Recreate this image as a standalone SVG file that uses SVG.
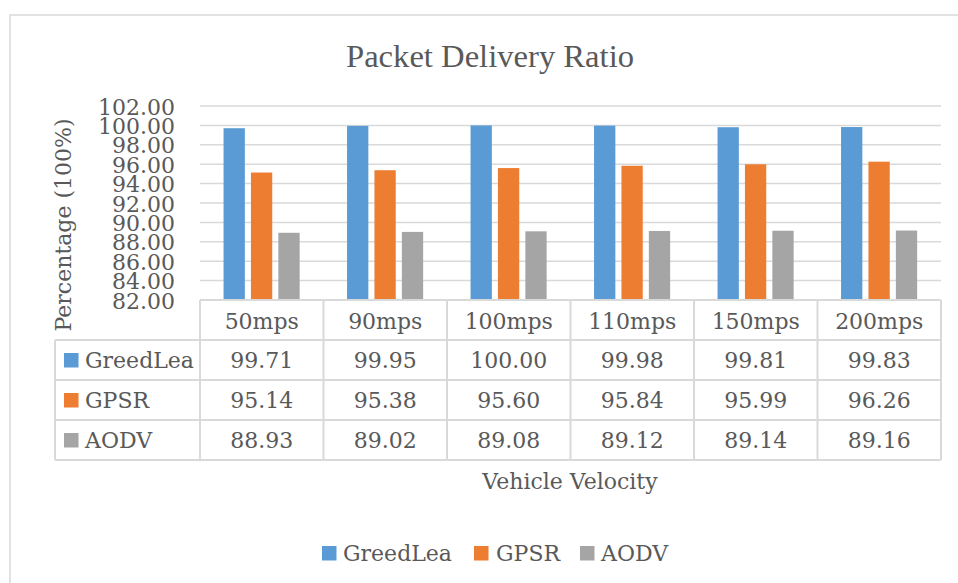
<svg xmlns="http://www.w3.org/2000/svg" width="958" height="583" viewBox="0 0 958 583">
<style>
text{font-family:"DejaVu Serif","Liberation Serif",serif;fill:#595959;font-size:22px}
.grid{stroke:#D9D9D9;stroke-width:1.5;fill:none}
.tb{stroke:#D9D9D9;stroke-width:2;fill:none}
.g{fill:#5B9BD5}.o{fill:#ED7D31}.a{fill:#A5A5A5}
.ya{text-anchor:end}
.c{text-anchor:middle}
</style>
<rect x="0" y="0" width="958" height="583" fill="#FFFFFF"/>
<rect x="10" y="15" width="960" height="580" fill="#FFFFFF" stroke="#D9D9D9" stroke-width="1.5"/>
<text id="title" x="490" y="67" class="c" style="font-family:'Liberation Serif',serif;font-size:32px" textLength="288" lengthAdjust="spacingAndGlyphs">Packet Delivery Ratio</text>
<g id="gridlines" class="grid">
<line x1="200" y1="106" x2="941" y2="106"/>
<line x1="200" y1="125.4" x2="941" y2="125.4"/>
<line x1="200" y1="144.8" x2="941" y2="144.8"/>
<line x1="200" y1="164.2" x2="941" y2="164.2"/>
<line x1="200" y1="183.6" x2="941" y2="183.6"/>
<line x1="200" y1="203" x2="941" y2="203"/>
<line x1="200" y1="222.4" x2="941" y2="222.4"/>
<line x1="200" y1="241.8" x2="941" y2="241.8"/>
<line x1="200" y1="261.2" x2="941" y2="261.2"/>
<line x1="200" y1="280.6" x2="941" y2="280.6"/>
</g>
<g id="yaxis">
<text class="ya" x="175" y="114.5">102.00</text>
<text class="ya" x="175" y="133.9">100.00</text>
<text class="ya" x="175" y="153.3">98.00</text>
<text class="ya" x="175" y="172.7">96.00</text>
<text class="ya" x="175" y="192.1">94.00</text>
<text class="ya" x="175" y="211.5">92.00</text>
<text class="ya" x="175" y="230.9">90.00</text>
<text class="ya" x="175" y="250.3">88.00</text>
<text class="ya" x="175" y="269.7">86.00</text>
<text class="ya" x="175" y="289.1">84.00</text>
<text class="ya" x="175" y="308.5">82.00</text>
<text class="c" transform="translate(71,225) rotate(-90)">Percentage (100%)</text>
</g>
<g id="bars">
<rect class="g" x="223.55" y="128.21" width="21.3" height="171.79"/>
<rect class="o" x="250.95" y="172.54" width="21.3" height="127.46"/>
<rect class="a" x="278.35" y="232.78" width="21.3" height="67.22"/>
<rect class="g" x="347.05" y="125.88" width="21.3" height="174.12"/>
<rect class="o" x="374.45" y="170.21" width="21.3" height="129.79"/>
<rect class="a" x="401.85" y="231.91" width="21.3" height="68.09"/>
<rect class="g" x="470.55" y="125.4" width="21.3" height="174.6"/>
<rect class="o" x="497.95" y="168.08" width="21.3" height="131.92"/>
<rect class="a" x="525.35" y="231.32" width="21.3" height="68.68"/>
<rect class="g" x="594.05" y="125.59" width="21.3" height="174.41"/>
<rect class="o" x="621.45" y="165.75" width="21.3" height="134.25"/>
<rect class="a" x="648.85" y="230.94" width="21.3" height="69.06"/>
<rect class="g" x="717.55" y="127.24" width="21.3" height="172.76"/>
<rect class="o" x="744.95" y="164.3" width="21.3" height="135.7"/>
<rect class="a" x="772.35" y="230.74" width="21.3" height="69.26"/>
<rect class="g" x="841.05" y="127.05" width="21.3" height="172.95"/>
<rect class="o" x="868.45" y="161.68" width="21.3" height="138.32"/>
<rect class="a" x="895.85" y="230.55" width="21.3" height="69.45"/>
</g>
<g id="table">
<g class="tb">
<line x1="200" y1="300" x2="941" y2="300"/>
<line x1="55" y1="340" x2="941" y2="340"/>
<line x1="55" y1="380" x2="941" y2="380"/>
<line x1="55" y1="420" x2="941" y2="420"/>
<line x1="55" y1="460" x2="941" y2="460"/>
<line x1="55" y1="340" x2="55" y2="460"/>
<line x1="200" y1="300" x2="200" y2="460"/>
<line x1="323.5" y1="300" x2="323.5" y2="460"/>
<line x1="447" y1="300" x2="447" y2="460"/>
<line x1="570.5" y1="300" x2="570.5" y2="460"/>
<line x1="694" y1="300" x2="694" y2="460"/>
<line x1="817.5" y1="300" x2="817.5" y2="460"/>
<line x1="941" y1="300" x2="941" y2="460"/>
</g>
<text class="c" x="261.75" y="328.5">50mps</text>
<text class="c" x="385.25" y="328.5">90mps</text>
<text class="c" x="508.75" y="328.5">100mps</text>
<text class="c" x="632.25" y="328.5">110mps</text>
<text class="c" x="755.75" y="328.5">150mps</text>
<text class="c" x="879.25" y="328.5">200mps</text>
<rect class="g" x="64" y="353" width="14.5" height="14.5"/>
<text x="85" y="367.5">GreedLea</text>
<rect class="o" x="64" y="393" width="14.5" height="14.5"/>
<text x="85" y="407.5">GPSR</text>
<rect class="a" x="64" y="433" width="14.5" height="14.5"/>
<text x="85" y="447.5">AODV</text>
<text class="c" x="261.75" y="367.5">99.71</text>
<text class="c" x="385.25" y="367.5">99.95</text>
<text class="c" x="508.75" y="367.5">100.00</text>
<text class="c" x="632.25" y="367.5">99.98</text>
<text class="c" x="755.75" y="367.5">99.81</text>
<text class="c" x="879.25" y="367.5">99.83</text>
<text class="c" x="261.75" y="407.5">95.14</text>
<text class="c" x="385.25" y="407.5">95.38</text>
<text class="c" x="508.75" y="407.5">95.60</text>
<text class="c" x="632.25" y="407.5">95.84</text>
<text class="c" x="755.75" y="407.5">95.99</text>
<text class="c" x="879.25" y="407.5">96.26</text>
<text class="c" x="261.75" y="447.5">88.93</text>
<text class="c" x="385.25" y="447.5">89.02</text>
<text class="c" x="508.75" y="447.5">89.08</text>
<text class="c" x="632.25" y="447.5">89.12</text>
<text class="c" x="755.75" y="447.5">89.14</text>
<text class="c" x="879.25" y="447.5">89.16</text>
</g>
<text id="xtitle" class="c" x="570" y="488.5">Vehicle Velocity</text>
<g id="legend">
<rect class="g" x="322" y="546" width="14.5" height="14.5"/>
<text x="343" y="560.5">GreedLea</text>
<rect class="o" x="474" y="546" width="14.5" height="14.5"/>
<text x="496" y="560.5">GPSR</text>
<rect class="a" x="580" y="546" width="14.5" height="14.5"/>
<text x="601" y="560.5">AODV</text>
</g>
</svg>
